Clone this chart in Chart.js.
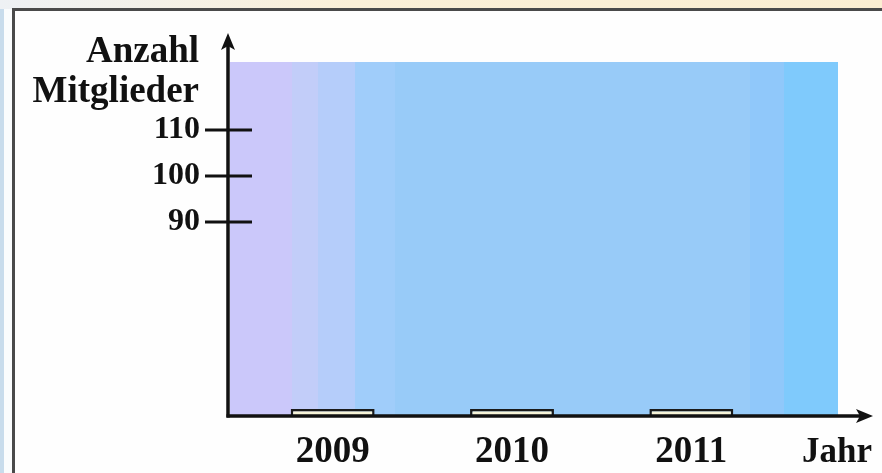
<!DOCTYPE html>
<html lang="de">
<head>
<meta charset="utf-8">
<title>Anzahl Mitglieder</title>
<script src="https://cdn.jsdelivr.net/npm/chart.js@4/dist/chart.umd.min.js"></script>
<style>
  html, body { margin: 0; padding: 0; overflow: hidden; }
  body {
    width: 882px;
    height: 473px;
    position: relative;
    background: linear-gradient(to right, #c8dcec 0, #c8dcec 4px, #fafcfd 4px);
  }
  .topstrip {
    position: absolute; left: 0; top: 0; width: 882px; height: 9px;
    background: linear-gradient(to right, #eef1f4, #fbf0d8 40%, #fbeed2);
  }
  .panel {
    position: absolute; left: 12px; top: 8px; width: 867px; height: 462px;
    border-left: 3px solid #4a4a4a; border-top: 3px solid #4a4a4a;
    background: #fefefe;
  }
  #chart { position: absolute; left: 0; top: 0; }
</style>
</head>
<body>
<div class="topstrip"></div>
<div class="panel"></div>
<canvas id="chart" width="882" height="473"></canvas>
<script>
  /* =========================
     DATEN
  ==========================*/
  const jahre = ["2009", "2010", "2011"];
  const mitglieder = [49.3, 49.3, 49.3]; // leere Balken (zum Ausfüllen)
  const yTicks = [90, 100, 110];
  const yMin = 47.8;
  const yMax = 124.8;

  const FONT = "'Liberation Serif', 'Times New Roman', serif";

  /* =========================
     HINTERGRUND + ACHSEN
  ==========================*/
  const achsenPlugin = {
    id: "achsen",
    beforeDatasetsDraw(chart) {
      const { ctx, chartArea: a } = chart;
      const x0 = a.left - 13;
      const x1 = a.right + 57;
      const g = ctx.createLinearGradient(x0, 0, x1, 0);
      const w = x1 - x0;
      const bands = [
        [0, "#cbc8fa"], [62, "#cbc8fa"], [62, "#c2cdf9"], [88, "#c2cdf9"],
        [88, "#b5cdfa"], [125, "#b5cdfa"], [125, "#a0cdfa"], [165, "#a0cdfa"],
        [165, "#98cbf8"], [520, "#98cbf8"], [520, "#90c8fa"], [554, "#90c8fa"],
        [554, "#7fcafc"], [w, "#7fcafc"],
      ];
      bands.forEach(([p, c]) => g.addColorStop(Math.min(1, p / w), c));
      ctx.save();
      ctx.fillStyle = g;
      ctx.fillRect(x0, a.top, w, a.bottom - a.top);
      ctx.restore();
    },
    afterDatasetsDraw(chart) {
      const { ctx, chartArea: a, scales } = chart;
      const ax = a.left - 15;
      const ay = a.bottom;
      ctx.save();
      ctx.strokeStyle = "#111";
      ctx.fillStyle = "#111";
      ctx.lineWidth = 3.5;

      // y-Achse
      ctx.beginPath();
      ctx.moveTo(ax, ay + 1.5);
      ctx.lineTo(ax, a.top - 18);
      ctx.stroke();
      ctx.beginPath();
      ctx.moveTo(ax, a.top - 29);
      ctx.lineTo(ax - 7, a.top - 12);
      ctx.lineTo(ax, a.top - 16);
      ctx.lineTo(ax + 7, a.top - 12);
      ctx.closePath();
      ctx.fill();

      // x-Achse
      ctx.beginPath();
      ctx.moveTo(ax - 1.5, ay);
      ctx.lineTo(a.right + 82, ay);
      ctx.stroke();
      ctx.beginPath();
      ctx.moveTo(a.right + 92, ay);
      ctx.lineTo(a.right + 75, ay - 7);
      ctx.lineTo(a.right + 79, ay);
      ctx.lineTo(a.right + 75, ay + 7);
      ctx.closePath();
      ctx.fill();

      // Teilstriche
      ctx.lineWidth = 3;
      yTicks.forEach((v) => {
        const py = scales.y.getPixelForValue(v);
        ctx.beginPath();
        ctx.moveTo(ax - 23, py);
        ctx.lineTo(ax + 24, py);
        ctx.stroke();
      });

      // Achsentitel
      ctx.font = "bold 37px " + FONT;
      ctx.textAlign = "right";
      ctx.textBaseline = "alphabetic";
      ctx.fillText("Anzahl", ax - 29, a.top);
      ctx.fillText("Mitglieder", ax - 29, a.top + 40);
      ctx.font = "bold 35px " + FONT;
      ctx.fillText("Jahr", a.right + 91, ay + 46);
      ctx.restore();
    },
  };

  /* =========================
     GRÁFICO
  ==========================*/
  const ctx = document.getElementById("chart");

  new Chart(ctx, {
    type: "bar",
    data: {
      labels: jahre,
      datasets: [
        {
          label: "Anzahl Mitglieder",
          data: mitglieder,
          backgroundColor: "#f7f4d8",
          borderColor: "#1a1a1a",
          borderWidth: 2.5,
          borderSkipped: "bottom",
          barPercentage: 0.468,
          categoryPercentage: 1,
        },
      ],
    },
    options: {
      responsive: false,
      animation: false,
      devicePixelRatio: 1,
      layout: { padding: { top: 62, right: 101, left: 0, bottom: 0 } },
      plugins: {
        legend: { display: false },
        tooltip: { enabled: false },
      },
      scales: {
        x: {
          grid: { display: false },
          border: { display: false },
          afterFit: (s) => { s.height = 57; },
          ticks: {
            color: "#111",
            padding: 6,
            font: { family: FONT, size: 37, weight: "bold" },
          },
        },
        y: {
          min: yMin,
          max: yMax,
          grid: { display: false },
          border: { display: false },
          afterFit: (s) => { s.width = 243; },
          afterBuildTicks: (s) => { s.ticks = yTicks.map((v) => ({ value: v })); },
          ticks: {
            color: "#111",
            padding: 35,
            font: { family: FONT, size: 32, weight: "bold" },
          },
        },
      },
    },
    plugins: [achsenPlugin],
  });
</script>
</body>
</html>
